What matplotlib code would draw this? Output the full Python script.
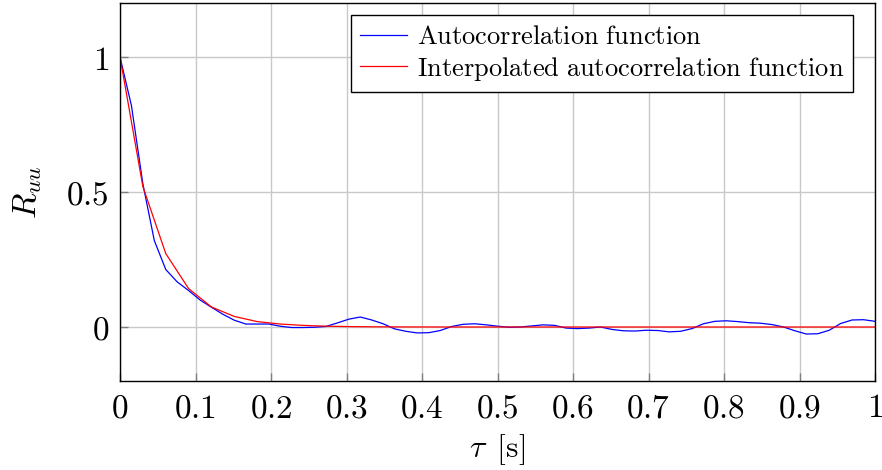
import matplotlib
matplotlib.use("Agg")
import matplotlib.pyplot as plt

plt.rcParams['mathtext.fontset'] = 'cm'
plt.rcParams['font.family'] = ['DejaVu Serif']

# Measured autocorrelation (66 equal steps over 0..1 s)
acf_values = [
    1.0, 0.82, 0.53, 0.32, 0.213, 0.167, 0.135, 0.10, 0.073, 0.047,
    0.025, 0.011, 0.011, 0.011, 0.003, -0.002, -0.002, -0.001, 0.002, 0.015,
    0.029, 0.037, 0.026, 0.012, -0.007, -0.016, -0.022, -0.021, -0.013, 0.002,
    0.010, 0.012, 0.008, 0.003, -0.001, 0.0, 0.004, 0.008, 0.006, -0.004,
    -0.006, -0.004, 0.0, -0.009, -0.014, -0.015, -0.012, -0.013, -0.018, -0.016,
    -0.006, 0.012, 0.021, 0.023, 0.020, 0.016, 0.014, 0.009, 0.0, -0.014,
    -0.026, -0.025, -0.012, 0.013, 0.026, 0.027, 0.021,
]
# Interpolated autocorrelation (33 equal steps over 0..1 s)
interp_values = [
    1.0, 0.52, 0.272, 0.142, 0.074, 0.039, 0.020, 0.011, 0.006, 0.003,
    0.0015, 0.0008, 0.0004, 0.0002, 0.0001, 0.0, 0.0, 0.0, 0.0, 0.0,
    0.0, 0.0, 0.0, 0.0, 0.0, 0.0, 0.0, 0.0, 0.0, 0.0,
    0.0, 0.0, 0.0, 0.0,
]
tau_acf = [i / (len(acf_values) - 1) for i in range(len(acf_values))]
tau_interp = [i / (len(interp_values) - 1) for i in range(len(interp_values))]

xticks = [0, 0.1, 0.2, 0.3, 0.4, 0.5, 0.6, 0.7, 0.8, 0.9, 1]
xticklabels = ['0', '0.1', '0.2', '0.3', '0.4', '0.5', '0.6', '0.7', '0.8', '0.9', '1']
yticks = [0, 0.5, 1]
yticklabels = ['0', '0.5', '1']

fig = plt.figure(figsize=(8.82, 4.70), dpi=100)
ax = fig.add_axes([120 / 882, 1 - 381 / 470, 755 / 882, 378 / 470])

ax.plot(tau_acf, acf_values, color='blue', lw=0.9, label=r'$\mathrm{Autocorrelation\ function}$')
ax.plot(tau_interp, interp_values, color='red', lw=0.9, label=r'$\mathrm{Interpolated\ autocorrelation\ function}$')

ax.set_xlim(0, 1)
ax.set_ylim(-0.2, 1.2)
ax.set_xticks(xticks)
ax.set_xticklabels(['$' + t + '$' for t in xticklabels], fontsize=24)
ax.set_yticks(yticks)
ax.set_yticklabels(['$' + t + '$' for t in yticklabels], fontsize=24)
ax.tick_params(direction='in', length=6, color='#808080', width=1, pad=8)
ax.grid(True, color='#c8c8c8', lw=1)
ax.set_axisbelow(True)
for s in ax.spines.values():
    s.set_color('black')
    s.set_linewidth(1)

ax.set_xlabel(r'$\tau\ \,[\mathrm{s}]$', fontsize=23, labelpad=6)
ax.set_ylabel(r'$R_{uu}$', fontsize=24, labelpad=16)

leg = ax.legend(loc='upper right', bbox_to_anchor=(0.971, 0.968), borderaxespad=0,
                fontsize=19, frameon=True, fancybox=False, framealpha=1,
                edgecolor='black', handlelength=1.8, handletextpad=0.35,
                labelspacing=0.2, borderpad=0.35)
leg.get_frame().set_linewidth(1)

fig.savefig('out.png', dpi=100)
